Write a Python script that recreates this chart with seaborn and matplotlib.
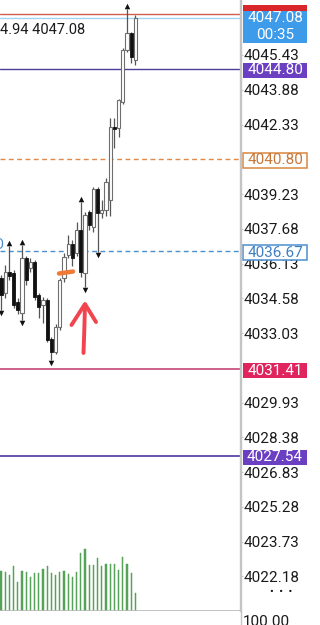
import matplotlib
matplotlib.use("Agg")
import matplotlib.pyplot as plt
from matplotlib.patches import Rectangle
from matplotlib.lines import Line2D
import numpy as np
import pandas as pd
import seaborn as sns

# ---------------- data ----------------
opens  = [4035.48, 4034.81, 4035.75, 4035.71, 4034.41, 4033.92, 4036.38, 4035.93, 4036.20, 4034.73,
          4034.28, 4034.50, 4032.76, 4032.18, 4033.30, 4035.48, 4036.51, 4037.00, 4036.60, 4037.63,
          4035.71, 4038.43, 4037.76, 4039.45, 4038.38, 4038.52, 4038.96, 4042.22, 4042.17, 4043.33,
          4045.65, 4046.41, 4045.21]
highs  = [4035.62, 4036.06, 4036.91, 4035.84, 4034.59, 4036.96, 4036.47, 4036.38, 4036.29, 4034.81,
          4034.64, 4034.59, 4032.85, 4033.43, 4035.48, 4036.60, 4037.40, 4037.18, 4037.98, 4038.87,
          4038.43, 4038.52, 4039.54, 4039.54, 4038.96, 4039.94, 4042.62, 4042.62, 4043.47, 4045.74,
          4047.48, 4046.46, 4047.21]
lows   = [4034.06, 4034.59, 4035.39, 4034.15, 4033.88, 4033.61, 4035.17, 4035.75, 4034.50, 4033.70,
          4033.48, 4032.63, 4031.83, 4032.09, 4033.16, 4035.31, 4036.38, 4036.02, 4036.47, 4035.53,
          4035.08, 4037.63, 4037.54, 4036.64, 4038.16, 4038.25, 4038.25, 4041.28, 4041.77, 4043.25,
          4045.56, 4045.07, 4044.98]
closes = [4034.73, 4035.75, 4035.57, 4034.28, 4034.06, 4036.38, 4035.39, 4036.20, 4034.64, 4034.19,
          4034.50, 4032.72, 4032.18, 4033.30, 4035.39, 4036.42, 4037.00, 4036.38, 4037.63, 4035.75,
          4038.29, 4037.85, 4039.45, 4038.38, 4038.52, 4039.77, 4042.22, 4042.13, 4043.42, 4045.65,
          4046.41, 4045.34, 4047.08]
volumes = [400, 390, 360, 450, 290, 400, 390, 340, 380, 380, 420, 450, 380, 360, 390, 400, 370,
           340, 390, 580, 620, 460, 460, 530, 450, 470, 470, 470, 410, 540, 470, 380, 180]
up_fractals = [2, 5, 19, 30]
down_fractals = [0, 5, 12, 20, 23]

tick_values = [4045.43, 4043.88, 4042.33, 4039.23, 4037.68, 4036.13, 4034.58, 4033.03,
               4029.93, 4028.38, 4026.83, 4025.28, 4023.73, 4022.18]
ask_price = 4047.26
last_price = 4047.08
purple_high = 4044.80
orange_level = 4040.80
blue_level = 4036.67
crimson_level = 4031.41
purple_low = 4027.54
header_text = "4.94 4047.08"
countdown = "00:35"
volume_scale_label = "100.00"

# ---------------- style ----------------
sns.set_theme(style="white")
plt.rcParams["font.family"] = ["Roboto", "DejaVu Sans"]

W, H = 320, 625
PPU = 22.42                      # pixels per price unit
REF_P, REF_Y = 4045.43, 55.0     # reference tick at pixel row 55
CW = 4.2                         # pixels per candle slot


def px2p(y):
    return REF_P - (y - REF_Y) / PPU


def px2x(x):
    return (x - 1.0) / CW


fig = plt.figure(figsize=(W / 100, H / 100), dpi=100)
fig.patch.set_facecolor("white")

ax_bottom_px = 611
ax = fig.add_axes([0, (H - ax_bottom_px) / H, 240 / W, ax_bottom_px / H])
ax.set_facecolor("white")
ylim = (px2p(ax_bottom_px), px2p(0))
xlim = (px2x(0), px2x(240))

# ---------------- level lines ----------------
ax.axhline(ask_price, color="#cf5f52", lw=1.0, zorder=1)
ax.axhline(last_price, color="#a3d3f2", lw=1.0, zorder=1)
ax.axhline(purple_high, color="#4f3d9c", lw=1.0, zorder=1)
ax.axhline(orange_level, color="#e0894a", lw=1.0, ls=(0, (3.5, 2.5)), zorder=1)
ax.axhline(blue_level, color="#4a8fd0", lw=1.0, ls=(0, (3.5, 2.5)), zorder=1)
ax.axhline(crimson_level, color="#c9537f", lw=1.3, zorder=1)
ax.axhline(purple_low, color="#5c45a6", lw=1.3, zorder=1)

# ---------------- candles ----------------
df = pd.DataFrame({"i": np.arange(len(opens)), "open": opens, "high": highs,
                   "low": lows, "close": closes, "volume": volumes})
ax.vlines(df["i"], df["low"], df["high"], color="#555555", lw=0.9, zorder=2)
bull = df["close"] >= df["open"]
body_lo = np.minimum(df["open"], df["close"])
body_h = np.maximum(np.abs(df["close"] - df["open"]), 0.06)
ax.bar(df["i"][bull], body_h[bull], bottom=body_lo[bull], width=0.72,
       color="white", edgecolor="#6e6e6e", linewidth=0.8, zorder=3)
ax.bar(df["i"][~bull], body_h[~bull], bottom=body_lo[~bull], width=0.72,
       color="#111111", edgecolor="#111111", linewidth=0.6, zorder=3)

# fractal markers
off = 3.0 / PPU
up_df = pd.DataFrame({"i": up_fractals, "y": [highs[k] + off for k in up_fractals]})
dn_df = pd.DataFrame({"i": down_fractals, "y": [lows[k] - off for k in down_fractals]})
sns.scatterplot(data=up_df, x="i", y="y", marker="^", color="#111111", s=16,
                linewidth=0, ax=ax, zorder=4)
sns.scatterplot(data=dn_df, x="i", y="y", marker="v", color="#111111", s=16,
                linewidth=0, ax=ax, zorder=4)

# hand-drawn annotations
ax.plot([px2x(59), px2x(73)], [px2p(273.5), px2p(271.5)], color="#f07a35", lw=3.2,
        solid_capstyle="round", zorder=5)
ax.plot([px2x(83.5), px2x(84.3), px2x(85)], [px2p(353), px2p(330), px2p(305)],
        color="#f2444c", lw=2.8, solid_capstyle="round", zorder=5)
ax.plot([px2x(71.5), px2x(85), px2x(96)], [px2p(325), px2p(304), px2p(322)],
        color="#f2444c", lw=2.8, solid_capstyle="round", solid_joinstyle="round", zorder=5)

# partial blue label at the left edge
ax.text(px2x(-7), blue_level + 0.3, "O", color="#4a8fd0", fontsize=10.5,
        ha="left", va="center", clip_on=True, zorder=5)

ax.set_xlim(*xlim)
ax.set_ylim(*ylim)
ax.set_xticks([])
ax.yaxis.tick_right()
ax.set_yticks(tick_values)
ax.set_yticklabels([f"{v:.2f}" for v in tick_values])
ax.tick_params(axis="y", which="both", right=True, length=2.2, width=0.8, color="#c8c8c8",
               pad=0.6, labelsize=11, labelcolor="#1a1a1a")
for s in ["top", "left", "bottom"]:
    ax.spines[s].set_visible(False)
ax.spines["right"].set_color("#c4c4c4")
ax.spines["right"].set_linewidth(1.0)
ax.set_xlabel("")
ax.set_ylabel("")

# ---------------- volume ----------------
vol_top_px = 470
axv = fig.add_axes([0, (H - ax_bottom_px) / H, 240 / W, (ax_bottom_px - vol_top_px) / H])
axv.patch.set_alpha(0)
sns.barplot(data=df, x="i", y="volume", color="#56a258", saturation=1, width=0.26,
            edgecolor="#56a258", linewidth=0.35, ax=axv, zorder=2)
axv.set_xlim(*xlim)
axv.set_ylim(0, 1410)
axv.axis("off")
axv.axhline(0, color="#b8b8b8", lw=1.2, zorder=3)

# ---------------- right-side price boxes ----------------
axr = fig.add_axes([240 / W, (H - ax_bottom_px) / H, 80 / W, ax_bottom_px / H])
axr.set_xlim(0, 80)
axr.set_ylim(*ylim)
axr.axis("off")
axr.patch.set_alpha(0)


def box(top_px, bot_px, face, edge, lw=0.0):
    r = Rectangle((3, px2p(bot_px)), 64, px2p(top_px) - px2p(bot_px),
                  facecolor=face, edgecolor=edge, linewidth=lw, zorder=5)
    axr.add_patch(r)


FS = 11
# red ask tag (mostly hidden) and blue last-price tag
box(5.5, 10.5, "#d8262b", "#d8262b")
box(10.5, 43, "#3d9bea", "#3d9bea")
axr.text(35, last_price, f"{last_price:.2f}", color="white", fontsize=FS,
         ha="center", va="center", zorder=6)
axr.text(35, px2p(35), countdown, color="white", fontsize=FS,
         ha="center", va="center", zorder=6)


def level_box(price, face, edge, text_color, lw=0.0):
    yc = REF_Y + (REF_P - price) * PPU + 1.2
    box(yc - 7.5, yc + 7.5, face, edge, lw)
    axr.text(35, px2p(yc), f"{price:.2f}", color=text_color, fontsize=FS,
             ha="center", va="center", zorder=6)


level_box(purple_high, "#6a3fc2", "#6a3fc2", "white")
level_box(orange_level, "white", "#d9863f", "#c8773a", lw=1.1)
level_box(blue_level, "white", "#4a8fd0", "#3d80c4", lw=1.1)
level_box(crimson_level, "#e0245e", "#e0245e", "white")
level_box(purple_low, "#6a3fc2", "#6a3fc2", "white")

# ---------------- misc text ----------------
fig.text(0.0, 1 - 29.5 / H, header_text, fontsize=10.5, color="#1a1a1a",
         ha="left", va="center")
fig.text(270 / W, 1 - 592 / H, "•  •  •", fontsize=8, color="#111111",
         ha="left", va="center")
fig.text(243 / W, 1 - 615 / H, volume_scale_label, fontsize=FS, color="#1a1a1a",
         ha="left", va="top")
fig.add_artist(Line2D([240.5 / W, 240.5 / W], [0, 1], color="#c4c4c4", lw=1.0,
                      transform=fig.transFigure))

fig.savefig("out.png", dpi=100, facecolor="white")
